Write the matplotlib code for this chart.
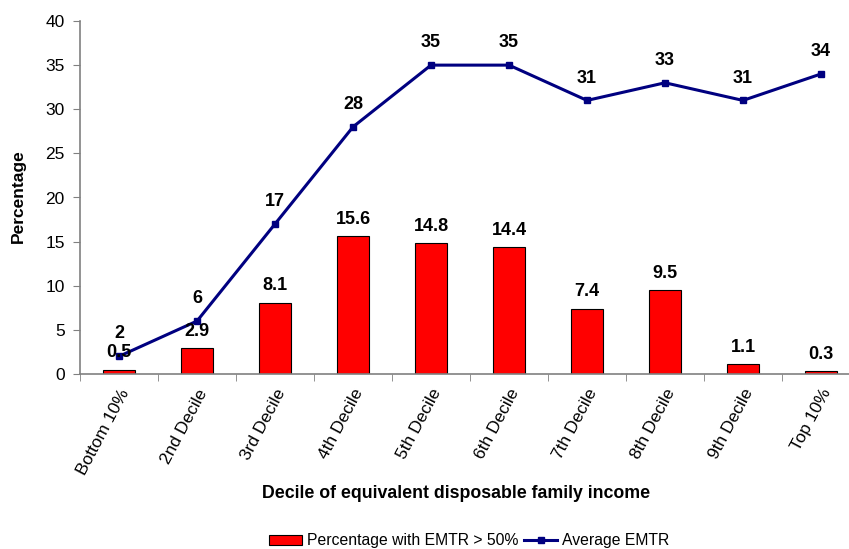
import matplotlib
matplotlib.use("Agg")
import matplotlib.pyplot as plt
import numpy as np

categories = ["Bottom 10%", "2nd Decile", "3rd Decile", "4th Decile", "5th Decile",
              "6th Decile", "7th Decile", "8th Decile", "9th Decile", "Top 10%"]
pct_over_50 = [0.5, 2.9, 8.1, 15.6, 14.8, 14.4, 7.4, 9.5, 1.1, 0.3]
avg_emtr = [2, 6, 17, 28, 35, 35, 31, 33, 31, 34]
yticks = [0, 5, 10, 15, 20, 25, 30, 35, 40]

plt.rcParams['font.family'] = ['Liberation Sans', 'DejaVu Sans']

fig = plt.figure(figsize=(8.49, 5.49), dpi=100)
ax = fig.add_axes([80/849, 1-374/549, 780/849, 353/549])

x = np.arange(len(categories))
bars = ax.bar(x, pct_over_50, width=0.41, color='#FF0000', edgecolor='black', linewidth=0.8,
              label='Percentage with EMTR > 50%', zorder=2)
line, = ax.plot(x, avg_emtr, color='#000080', linewidth=2.2, marker='s', markersize=4.5,
                label='Average EMTR', zorder=3)

for xi, v in zip(x, pct_over_50):
    ax.annotate(f"{v}", (xi, v), xytext=(0, 6), textcoords='offset points',
                ha='center', va='bottom', fontsize=13, fontweight='bold', zorder=4)
for xi, v in zip(x, avg_emtr):
    ax.annotate(f"{v}", (xi, v), xytext=(0, 10), textcoords='offset points',
                ha='center', va='bottom', fontsize=13, fontweight='bold', zorder=4)

ax.set_xlim(-0.5, len(categories) - 0.5)
ax.set_ylim(0, 40)
ax.set_yticks(yticks)
ax.tick_params(axis='y', labelsize=12.5, direction='out', length=5, color='#808080', pad=6)
ax.set_xticks(x)
ax.set_xticklabels(categories, rotation=62, ha='right', rotation_mode='anchor', fontsize=12.5)
ax.tick_params(axis='x', length=0, pad=9)
ax.set_xticks(np.arange(-0.5, len(categories), 1), minor=True)
ax.tick_params(axis='x', which='minor', length=5, direction='out', color='#808080')

for s in ['top', 'right']:
    ax.spines[s].set_visible(False)
for s in ['left', 'bottom']:
    ax.spines[s].set_color('#808080')
    ax.spines[s].set_linewidth(1.2)

fig.text(18/849, 1-196/549, 'Percentage', rotation=90, ha='center', va='center',
         fontsize=12.5, fontweight='bold')
fig.text(456/849, 1-494/549, 'Decile of equivalent disposable family income',
         ha='center', va='center', fontsize=12.8, fontweight='bold')

leg = fig.legend(handles=[bars, line], loc='center', bbox_to_anchor=(469/849, 1-541/549),
                 ncol=2, frameon=False, fontsize=11.3, handlelength=2.1, handleheight=0.55,
                 columnspacing=0.4, handletextpad=0.3)

fig.savefig('out.png', dpi=100)
